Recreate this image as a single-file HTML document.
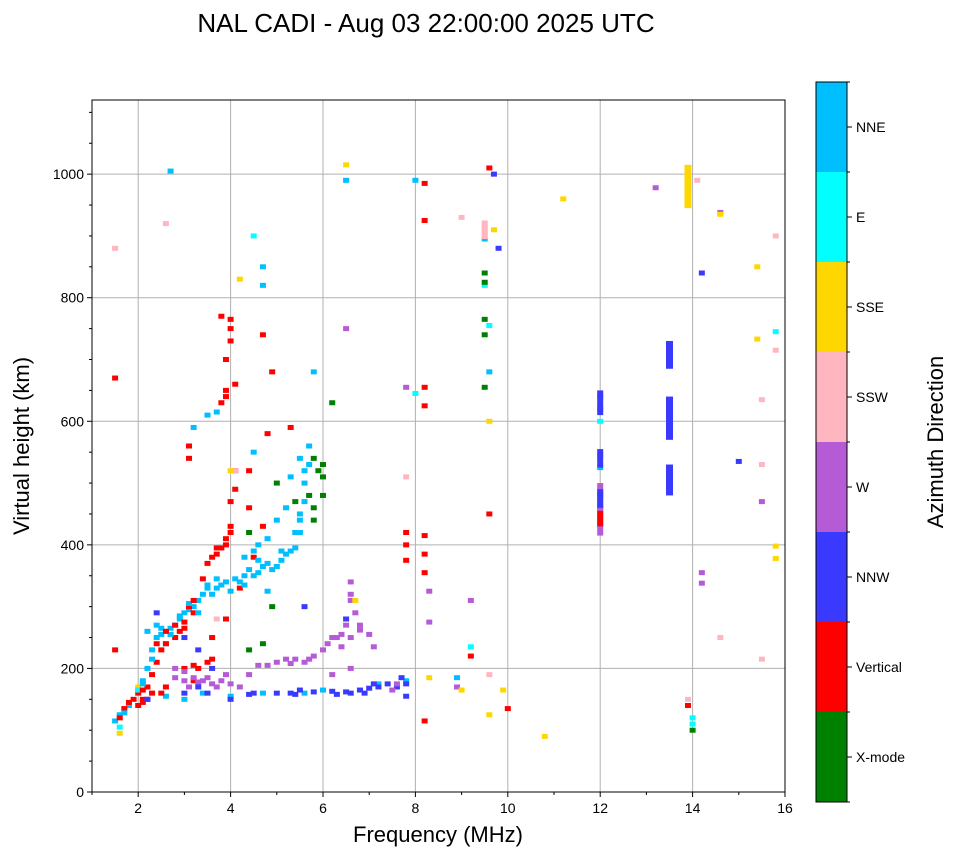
<!DOCTYPE html>
<html><head><meta charset="utf-8"><style>
body{margin:0;background:#fff;}
svg{display:block;font-family:"Liberation Sans","DejaVu Sans",sans-serif;}
</style></head><body>
<svg id="chart" width="958" height="857" xmlns="http://www.w3.org/2000/svg">
<text x="426" y="32" font-size="26" text-anchor="middle">NAL CADI - Aug 03 22:00:00 2025 UTC</text>
<g id="grid"></g>
<g id="marks"></g>
<rect x="92" y="100" width="693" height="692" fill="none" stroke="#000" stroke-width="1"/>
<g id="axes"></g>
<text x="438" y="842" font-size="22" text-anchor="middle">Frequency (MHz)</text>
<text x="0" y="0" font-size="22" text-anchor="middle" transform="translate(29,446) rotate(-90)">Virtual height (km)</text>
<g id="cbar"></g>
<text x="0" y="0" font-size="22" text-anchor="middle" transform="translate(943,442) rotate(-90)">Azimuth Direction</text>
</svg>
<script>
const colors=["#008000","#ff0000","#3a3aff","#b65bd6","#ffb6c1","#ffd700","#00ffff","#00bfff"];
const dirNames=["X-mode","Vertical","NNW","W","SSW","SSE","E","NNE"];
const xTicks=[2,4,6,8,10,12,14,16];
const yTicks=[0,200,400,600,800,1000];
const ptFreq=[1.5,1.6,1.8,2.0,2.1,2.2,2.3,2.4,2.5,2.6,2.7,2.8,2.9,3.0,3.1,3.2,3.3,3.4,3.5,3.6,3.7,3.8,3.9,4.1,4.2,4.3,4.4,4.5,4.6,4.7,4.8,4.9,5.0,5.1,5.2,5.3,5.4,5.5,5.5,5.6,5.6,5.7,5.7,5.5,5.3,5.2,5.0,4.8,4.6,4.5,4.3,2.2,2.4,2.6,3.2,3.5,3.7,4.7,4.7,4.5,3.4,4.0,4.7,5.6,6.0,7.2,7.8,8.9,9.5,9.6,12.0,12.0,12.0,12.0,5.8,2.7,6.5,8.0,
1.5,1.5,1.6,1.7,1.9,2.0,2.1,2.2,2.3,2.4,2.5,2.6,2.8,2.9,3.0,3.1,3.2,3.3,3.5,3.6,3.7,3.8,3.9,4.0,4.0,4.1,3.8,3.9,4.1,3.9,4.0,4.0,3.8,3.1,3.1,4.4,4.4,4.5,4.7,4.8,4.2,3.6,3.0,3.2,2.6,2.3,2.1,7.8,7.8,7.8,8.2,8.2,8.2,8.2,8.2,8.2,8.2,8.2,9.6,9.2,9.6,10,12,12,13.9,13.9,4.9,5.3,4.7,3.9,
3.0,3.5,4.0,4.5,5.0,5.3,5.5,5.8,6.2,6.5,6.6,6.8,7.0,7.2,7.4,7.6,7.8,3.3,3.6,2.4,3.0,5.6,6.5,9.7,9.8,14.2,15,
2.8,3.0,3.2,3.4,3.6,3.8,4.0,4.2,4.6,4.8,5.0,5.2,5.4,5.6,5.8,6.0,6.2,6.4,6.5,6.6,6.6,6.8,7.0,7.1,6.6,6.4,6.2,6.5,7.8,8.3,8.3,9.2,13.2,14.2,14.2,14.6,15.5,13.9,8.9,7.5,7.6,
1.5,2.6,4.1,9.0,9.5,9.5,13.9,14.1,14.6,15.5,15.5,15.5,15.8,15.8,7.8,9.6,3.7,
1.6,2.0,4.2,4.0,6.5,6.7,8.3,9.0,9.7,9.9,10.8,11.2,13.9,14.6,15.4,15.4,15.8,15.8,9.6,9.6,
2.0,4.5,8.0,9.5,9.6,9.2,12.0,14.0,14.0,15.8,1.6,
5.8,6.0,6.0,5.8,5.8,6.0,6.2,5.4,5.0,4.4,4.7,4.9,9.5,9.5,9.5,9.5,9.5,14.0,4.4,5.7,5.9];
const ptHeight=[115,125,140,165,180,200,230,250,255,260,265,270,280,290,295,300,310,320,330,320,330,335,340,345,340,350,360,350,355,365,370,360,365,375,385,390,395,420,450,470,500,530,560,540,510,460,440,410,400,390,380,260,270,240,590,610,615,850,820,550,160,155,160,160,165,175,180,185,895,680,640,620,545,525,680,1005,990,990,
670,230,120,135,150,160,150,170,190,210,230,240,250,260,275,300,290,200,210,380,385,395,410,430,470,520,630,650,660,700,730,765,770,560,540,520,460,380,430,580,330,250,200,180,170,160,145,420,400,375,985,925,655,625,415,385,355,115,1010,220,450,135,480,460,140,960,680,590,740,280,
160,160,150,160,160,160,165,162,163,162,160,165,168,170,175,170,155,230,200,290,250,300,280,1000,880,840,535,
200,195,185,180,175,180,175,170,205,205,210,215,215,210,220,230,250,255,270,310,340,270,255,235,200,235,190,750,655,325,275,310,978,355,338,938,470,970,170,165,175,
880,920,520,930,915,905,150,990,250,215,530,635,715,900,510,190,280,
95,170,830,520,1015,310,185,165,910,165,90,960,1010,935,850,733,398,378,600,125,
165,900,645,820,755,235,600,120,110,745,105,
540,530,510,460,440,480,630,470,500,420,240,300,840,825,765,740,655,100,230,480,520];
const ptDir=[].concat(Array(78).fill(7),Array(70).fill(1),Array(27).fill(2),Array(41).fill(3),Array(17).fill(4),Array(20).fill(5),Array(11).fill(6),Array(21).fill(0));
const extraFreq=[2.1,2.3,2.5,2.7,2.9,3.1,3.3,3.5,3.7,4.0,4.3,4.6,5.1,5.4,5.5,5.6,3.0,2.6,1.7,4.8,
1.8,2.0,2.2,2.4,2.6,2.8,3.0,3.2,3.4,3.5,3.7,3.9,4.0,4.1,3.6,3.2,2.5,3.9,4.0,2.1,
2.8,3.0,3.3,3.5,3.7,3.9,4.4,5.3,5.7,6.1,6.3,6.6,6.8,6.6,6.7,3.1,
3.3,4.4,5.4,6.3,6.9,7.1,7.7,7.8,2.2];
const extraHeight=[175,215,265,255,285,305,290,335,345,325,335,375,390,420,440,520,150,155,128,325,
145,140,150,240,260,270,265,310,345,370,395,400,420,490,215,205,160,640,750,165,
185,180,178,185,170,190,190,208,215,240,250,250,262,320,290,170,
170,158,158,158,160,175,185,175,150];
const extraDir=[].concat(Array(20).fill(7),Array(20).fill(1),Array(16).fill(3),Array(9).fill(2));
const blkFreq=[12.0,12.0,12.0,13.5,13.5,13.5,12.0,12.0,13.9,9.5];
const blkLow=[415,430,460,480,570,685,610,525,945,895];
const blkHigh=[500,455,490,530,640,730,650,555,1015,925];
const blkDir=[3,1,2,2,2,2,2,2,5,4];

const NS="http://www.w3.org/2000/svg";
const X0=92,X1=785,Y0=792,Y1=100,FMIN=1,FMAX=16,HMAX=1120;
function xs(f){return X0+(f-FMIN)/(FMAX-FMIN)*(X1-X0);}
function ys(h){return Y0-h/HMAX*(Y0-Y1);}
function mk(tag,at,parent){const e=document.createElementNS(NS,tag);for(const k in at)e.setAttribute(k,at[k]);parent.appendChild(e);return e;}
const grid=document.getElementById('grid'),axes=document.getElementById('axes'),marks=document.getElementById('marks'),cbar=document.getElementById('cbar');
xTicks.forEach(t=>{const x=xs(t);
 if(t<FMAX){const g=mk('line',{x1:x,x2:x,y1:Y1,y2:Y0,stroke:'#b0b0b0','stroke-width':1},grid);
 
 }
 mk('line',{x1:x,x2:x,y1:Y0,y2:Y0+5,stroke:'#000'},axes);
 const tx=mk('text',{x:x,y:Y0+21,'font-size':14,'text-anchor':'middle'},axes);tx.textContent=t;
 
 
 if(t-1>=FMIN){mk('line',{x1:xs(t-1),x2:xs(t-1),y1:Y0,y2:Y0+3,stroke:'#000'},axes);}
});
yTicks.forEach(t=>{const y=ys(t);
 if(t>0){const g=mk('line',{x1:X0,x2:X1,y1:y,y2:y,stroke:'#b0b0b0','stroke-width':1},grid);
 
 }
 mk('line',{x1:X0-5,x2:X0,y1:y,y2:y,stroke:'#000'},axes);
 const tx=mk('text',{x:X0-8,y:y+5,'font-size':14,'text-anchor':'end'},axes);tx.textContent=t;
 
 
});
for(let h=50;h<HMAX;h+=50){if(h%200)mk('line',{x1:X0-3,x2:X0,y1:ys(h),y2:ys(h),stroke:'#000'},axes);}
function drawPts(F,H,D){
 for(let i=0;i<F.length;i++){
  const r=mk('rect',{x:xs(F[i])-3,y:ys(H[i])-2.5,width:6,height:5,fill:colors[D[i]]},marks);
  
  
 }
}
drawPts(ptFreq,ptHeight,ptDir);
drawPts(extraFreq,extraHeight,extraDir);
for(let i=0;i<blkFreq.length;i++){
 const w=(blkFreq[i]==13.5||blkFreq[i]==13.9)?7:6;
 const r=mk('rect',{x:xs(blkFreq[i])-w/2,y:ys(blkHigh[i]),width:w,height:ys(blkLow[i])-ys(blkHigh[i]),fill:colors[blkDir[i]]},marks);
 
 
}
const CB0=802,CBH=90;
dirNames.forEach((n,i)=>{const y=CB0-(i+1)*CBH;
 const r=mk('rect',{x:816,y:y,width:31,height:CBH,fill:colors[i]},cbar);
 
 
 mk('line',{x1:847,x2:852,y1:y+CBH/2,y2:y+CBH/2,stroke:'#000'},cbar);
 const tx=mk('text',{x:856,y:y+CBH/2+5,'font-size':14},cbar);tx.textContent=n;
 
 
});
for(let i=0;i<=8;i++)mk('line',{x1:847,x2:850,y1:CB0-i*CBH,y2:CB0-i*CBH,stroke:'#000'},cbar);
mk('rect',{x:816,y:82,width:31,height:720,fill:'none',stroke:'#000'},cbar);
</script>
</body></html>
